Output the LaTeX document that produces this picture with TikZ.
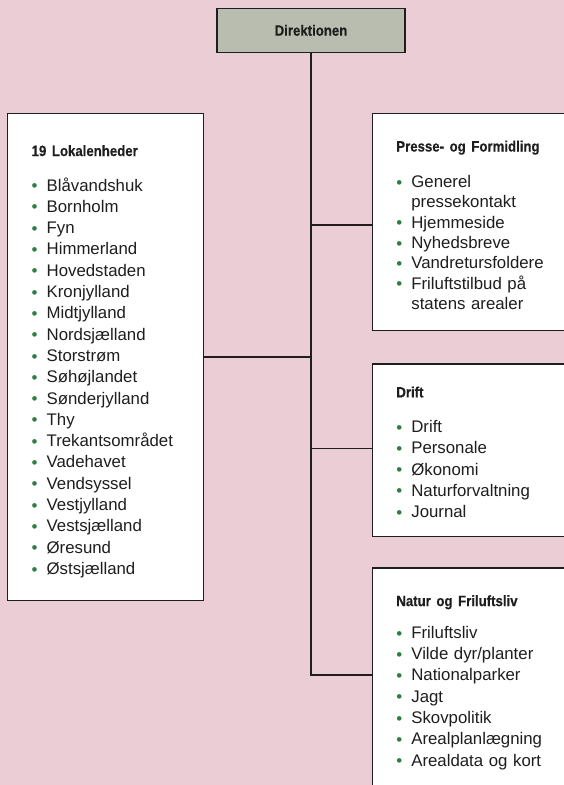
\documentclass[tikz,border=0pt]{standalone}
\usepackage{fontspec}
\setmainfont{Liberation Sans}
\newfontfamily\hdfont[FakeStretch=0.88, WordSpace=0.75, FakeBold=0.3]{Liberation Sans}
\usetikzlibrary{positioning}

\definecolor{bgpink}{HTML}{EBCDD5}
\definecolor{dirgrey}{HTML}{B8BDAF}
\definecolor{dotgreen}{HTML}{2F7D45}
\definecolor{ink}{HTML}{1E1E1E}

\newcommand{\blt}{\textcolor{dotgreen}{\raisebox{-0.6pt}{\fontsize{17}{17}\selectfont\textbullet}}}
\newcommand{\itm}[1]{\makebox[15pt][l]{\blt}#1}
\newcommand{\cnt}[1]{\hspace*{15pt}#1}
\newcommand{\hd}[1]{{\hdfont\bfseries\fontsize{15}{18}\selectfont #1}}

\begin{document}
\begin{tikzpicture}[x=1pt, y=-1pt,
    box/.style={draw=ink, line width=1.3pt, fill=white, anchor=north west,
      inner xsep=24pt, inner ysep=0pt, align=left, text=ink,
      font=\fontsize{16.8}{21.3}\selectfont},
    conn/.style={draw=ink, line width=1.2pt}]
  \fill[bgpink] (0,0) rectangle (564,785);
  \useasboundingbox (0,0) rectangle (564,785);
  \clip (0,0) rectangle (564,785);

  \node[draw=ink, line width=1.3pt, fill=dirgrey, minimum width=188pt,
    minimum height=44pt, text=ink] (dir) at (311,30.3) {\hd{Direktionen}};

  \node[box, text width=148pt, minimum height=487.3pt] (lokal) at (7,112.7) {%
    \rule{0pt}{20pt}\hd{19 Lokalenheder}\\[13.7pt]
    \itm{Blåvandshuk}\\
    \itm{Bornholm}\\
    \itm{Fyn}\\
    \itm{Himmerland}\\
    \itm{Hovedstaden}\\
    \itm{Kronjylland}\\
    \itm{Midtjylland}\\
    \itm{Nordsjælland}\\
    \itm{Storstrøm}\\
    \itm{Søhøjlandet}\\
    \itm{Sønderjylland}\\
    \itm{Thy}\\
    \itm{Trekantsområdet}\\
    \itm{Vadehavet}\\
    \itm{Vendsyssel}\\
    \itm{Vestjylland}\\
    \itm{Vestsjælland}\\
    \itm{Øresund}\\
    \itm{Østsjælland}};

  \node[box, text width=182pt, minimum height=217.3pt,
    font=\fontsize{16.8}{20.3}\selectfont] (presse) at (371.7,112.7) {%
    \rule{0pt}{17pt}\hd{Presse- og Formidling}\\[15.7pt]
    \itm{Generel}\\
    \cnt{pressekontakt}\\
    \itm{Hjemmeside}\\
    \itm{Nyhedsbreve}\\
    \itm{Vandretursfoldere}\\
    \itm{Friluftstilbud på}\\
    \cnt{statens arealer}};

  \node[box, text width=182pt, minimum height=172.7pt] (drift) at (371.7,363.3) {%
    \rule{0pt}{15pt}\hd{Drift}\\[13.7pt]
    \itm{Drift}\\
    \itm{Personale}\\
    \itm{Økonomi}\\
    \itm{Naturforvaltning}\\
    \itm{Journal}};

  \node[box, text width=182pt, minimum height=229pt] (natur) at (371.7,567.3) {%
    \hd{Natur og Friluftsliv}\\[11pt]
    \itm{Friluftsliv}\\
    \itm{Vilde dyr/planter}\\
    \itm{Nationalparker}\\
    \itm{Jagt}\\
    \itm{Skovpolitik}\\
    \itm{Arealplanlægning}\\
    \itm{Arealdata og kort}};

  % connectors
  \coordinate (trunk) at (311,675);
  \coordinate (pj) at (311,225);
  \coordinate (dj) at (311,448.3);
  \draw[conn] (dir.south) -- (trunk) -- (natur.west |- trunk);
  \draw[conn] (lokal.east) -- (lokal.east -| dir.south);
  \draw[conn] (pj) -- (presse.west |- pj);
  \draw[conn] (dj) -- (drift.west |- dj);
\end{tikzpicture}
\end{document}
